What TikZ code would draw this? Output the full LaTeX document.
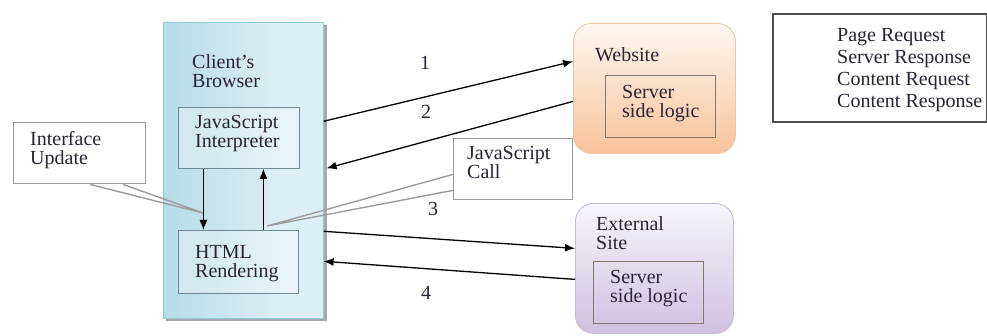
\documentclass[tikz,border=0pt]{standalone}
\usepackage{fontspec}
\setmainfont{Liberation Serif}
\usetikzlibrary{arrows.meta}

\definecolor{ink}{HTML}{2B2236}
\definecolor{bluea}{HTML}{9ACFDB}
\definecolor{blueb}{HTML}{DDEFF4}
\definecolor{bluec}{HTML}{8FCAD8}
\definecolor{shadowgray}{HTML}{A4A9AB}
\definecolor{boxedge}{HTML}{6E8A92}
\definecolor{orangetop}{HTML}{FFF7F1}
\definecolor{orangebot}{HTML}{F7C39A}
\definecolor{orangeedge}{HTML}{F2C4A0}
\definecolor{purpletop}{HTML}{F8F4FB}
\definecolor{purplebot}{HTML}{CFC1DF}
\definecolor{purpleedge}{HTML}{C6B8D8}
\definecolor{inneredge}{HTML}{85776F}
\definecolor{callgray}{HTML}{9C9C9C}
\definecolor{legendedge}{HTML}{4D4D4D}

\pgfdeclarehorizontalshading{browsershade}{100bp}{%
  color(0bp)=(bluea); color(62bp)=(blueb); color(88bp)=(blueb); color(100bp)=(bluec)}

% text nodes are anchored at the baseline of their last line
\tikzset{
  txt/.style={anchor=base west, inner sep=0pt, align=left, text=ink,
    font=\fontsize{20}{19}\selectfont},
  numlabel/.style={anchor=base, inner sep=0pt, text=ink, font=\fontsize{20}{19}\selectfont},
  browserbox/.style={rectangle, inner sep=0pt, shading=browsershade, draw=bluec, line width=0.6pt},
  innerbox/.style={rectangle, inner sep=0pt, draw=boxedge, line width=0.8pt, fill=white, fill opacity=0.3},
  sitebox/.style={rectangle, rounded corners=18pt, inner sep=0pt, line width=0.8pt},
  serverbox/.style={rectangle, inner sep=0pt, draw=inneredge, line width=0.8pt},
  callbox/.style={rectangle, inner sep=0pt, draw=callgray, fill=white, line width=1.4pt},
  callline/.style={draw=callgray, line width=1.4pt},
  legendbox/.style={rectangle, inner sep=0pt, draw=legendedge, fill=white, line width=1.6pt},
  flow/.style={draw=black, line width=1.3pt, -{Latex[length=10pt,width=8pt]}}
}

\begin{document}
\begin{tikzpicture}[x=1pt, y=-1pt]
\useasboundingbox[fill=white] (0,0) rectangle (987,336);

% client browser panel with its drop shadow
\fill[shadowgray] (166,25) rectangle (326.5,321.5);
\node[browserbox, minimum width=160pt, minimum height=296pt, anchor=north west] (bro) at (163,22) {};
\node[txt] (brotext) at (192,88) {Client's\\Browser};

\node[innerbox, text opacity=1, minimum width=121pt, minimum height=61pt, anchor=north west] (jsi) at (178,107) {};
\node[txt] (jsitext) at (195,148) {JavaScript\\Interpreter};

\node[innerbox, text opacity=1, minimum width=120pt, minimum height=63pt, anchor=north west] (html) at (178,230) {};
\node[txt, font=\fontsize{20}{19}\selectfont] (htmltext) at (195,278) {HTML\\Rendering};

% website server
\node[sitebox, top color=orangetop, bottom color=orangebot, draw=orangeedge,
      minimum width=162pt, minimum height=130pt, anchor=north west] (web) at (573,23) {};
\node[txt] (webtext) at (595,62) {Website};
\node[serverbox, minimum width=110pt, minimum height=62pt, anchor=north west] (websrv) at (605,75) {};
\node[txt] (websrvtext) at (622,118) {Server\\side logic};

% external site server
\node[sitebox, top color=purpletop, bottom color=purplebot, draw=purpleedge,
      minimum width=158pt, minimum height=130pt, anchor=north west] (ext) at (575,203) {};
\node[txt, font=\fontsize{20}{19.5}\selectfont] (exttext) at (596,250) {External\\Site};
\node[serverbox, minimum width=110pt, minimum height=62pt, anchor=north west] (extsrv) at (593,261) {};
\node[txt] (extsrvtext) at (610,303) {Server\\side logic};

% legend
\node[legendbox, minimum width=214pt, minimum height=108pt, anchor=north west] (legend) at (772,13) {};
\node[txt, font=\fontsize{20}{22.3}\selectfont] (legendtext) at (837,108)
  {Page Request\\Server Response\\Content Request\\Content Response};

% browser internal calls
\draw[flow] ([xshift=-35.5pt]jsi.south) -- ([xshift=-35pt]html.north);
\draw[flow] ([xshift=25pt]html.north) -- ([xshift=24.5pt]jsi.south);

% request / response traffic
\draw[flow] ([yshift=49pt]bro.east) -- ([yshift=27pt]web.west);
\draw[flow] ([yshift=-13pt]web.west) -- ([yshift=2pt,xshift=3pt]bro.east);
\draw[flow] ([yshift=-61pt]bro.east) -- ([yshift=20pt]ext.west);
\draw[flow] ([yshift=-11pt]ext.west) -- ([yshift=-91pt]bro.east);

\node[numlabel] (n1) at (425,70) {1};
\node[numlabel] (n2) at (426,119) {2};
\node[numlabel] (n3) at (433,216) {3};
\node[numlabel] (n4) at (426,300) {4};

% callouts
\coordinate (updtip) at (203,213);
\coordinate (calltip) at (267,226);

\node[callbox, minimum width=132pt, minimum height=61pt, anchor=north west] (upd) at (13,122) {};
\node[txt] (updtext) at (30,165) {Interface\\Update};
\draw[callline] ([xshift=77pt]upd.south west) -- (updtip) -- ([xshift=110pt]upd.south west);

\node[callbox, minimum width=119pt, minimum height=61pt, anchor=north west] (jsc) at (453,138) {};
\node[txt] (jsctext) at (467,179) {JavaScript\\Call};
\draw[callline] ([yshift=26pt]jsc.south west) -- (calltip) -- ([yshift=10pt]jsc.south west);
\end{tikzpicture}
\end{document}
